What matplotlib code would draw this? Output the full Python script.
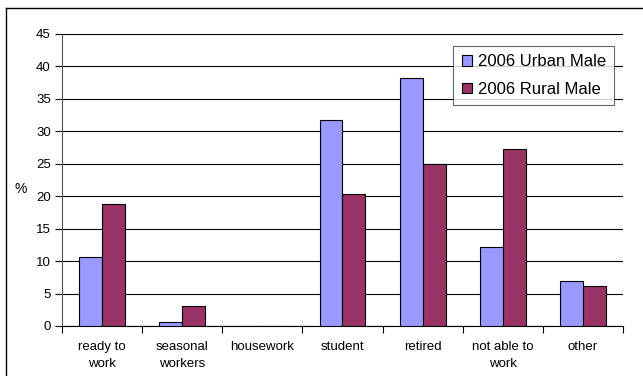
import numpy as np
import matplotlib.pyplot as plt
from matplotlib.lines import Line2D

plt.rcParams['font.family'] = ['Liberation Sans', 'DejaVu Sans']

# data
categories = ["ready to\nwork", "seasonal\nworkers", "housework", "student",
              "retired", "not able to\nwork", "other"]
urban_male = [10.7, 0.6, 0.0, 31.7, 38.2, 12.2, 6.9]
rural_male = [18.8, 3.1, 0.0, 20.3, 25.0, 27.2, 6.1]
series_names = ["2006 Urban Male", "2006 Rural Male"]
yticks = [0, 5, 10, 15, 20, 25, 30, 35, 40, 45]

c_urban = "#9999FF"
c_rural = "#993366"

fig = plt.figure(figsize=(6.43, 3.76), dpi=100)
ax = fig.add_axes([0.0964, 0.133, 0.8725, 0.7766])

x = np.arange(len(categories))
w = 0.286
ax.bar(x - w/2, urban_male, width=w, color=c_urban, edgecolor="black",
       linewidth=0.8, label=series_names[0], zorder=3)
ax.bar(x + w/2, rural_male, width=w, color=c_rural, edgecolor="black",
       linewidth=0.8, label=series_names[1], zorder=3)

ax.set_xlim(-0.5, len(categories) - 0.5)
ax.set_ylim(0, 45)
ax.set_yticks(yticks)
ax.yaxis.grid(True, color="black", linewidth=0.8, zorder=0)
ax.set_axisbelow(True)

# category ticks at boundaries, labels centred
ax.set_xticks(np.arange(len(categories) + 1) - 0.5)
ax.set_xticklabels([])
ax.set_xticks(x, minor=True)
ax.set_xticklabels(categories, minor=True, fontsize=9.5, linespacing=1.5)
ax.tick_params(axis="x", which="minor", length=0, pad=11)
ax.tick_params(axis="x", which="major", length=5, width=0.8, direction="out")
ax.tick_params(axis="y", length=5, width=0.8, direction="out", labelsize=9.5, pad=3)

for s in ["top", "right"]:
    ax.spines[s].set_visible(False)
ax.spines["left"].set_color("#555555")
ax.spines["bottom"].set_color("black")

ax.set_ylabel("%", rotation=0, fontsize=10, labelpad=14, va="center")
ax.yaxis.set_label_coords(-0.073, 0.47)

leg = ax.legend(loc="upper right", bbox_to_anchor=(0.984, 0.959), fontsize=12,
                frameon=True, fancybox=False, edgecolor="#444444",
                handlelength=0.6, handleheight=0.6, handletextpad=0.35,
                labelspacing=0.75, borderpad=0.5, borderaxespad=0)
leg.get_frame().set_linewidth(0.8)

# outer chart frame
fig.add_artist(Line2D([6/643, 6/643], [0, 1 - 8/376], color="black",
                      linewidth=1.0, transform=fig.transFigure))
fig.add_artist(Line2D([6/643, 1], [1 - 8/376, 1 - 8/376], color="black",
                      linewidth=1.0, transform=fig.transFigure))

fig.savefig("out.png", dpi=100)
